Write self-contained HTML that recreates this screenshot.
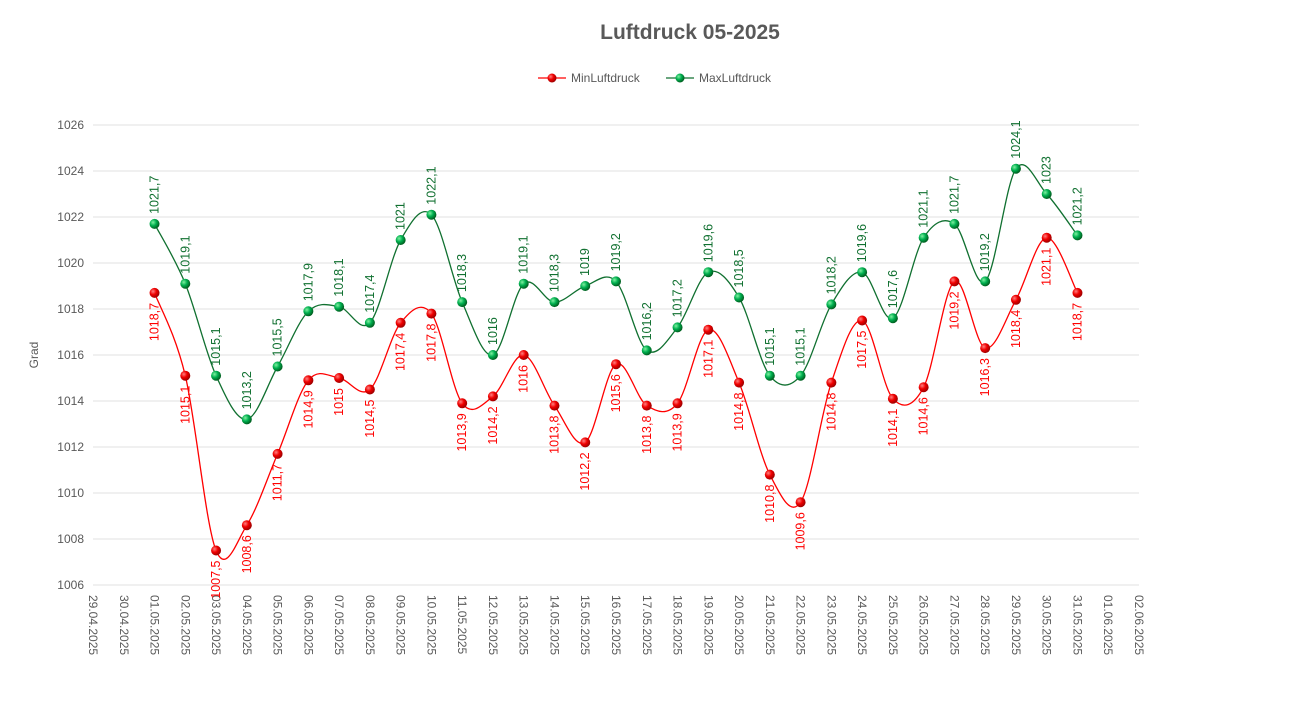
<!DOCTYPE html>
<html><head><meta charset="utf-8"><style>
html,body{margin:0;padding:0;background:#fff;}
svg{display:block;font-family:"Liberation Sans",sans-serif;}
</style></head><body>
<svg id="s" width="1315" height="714" xmlns="http://www.w3.org/2000/svg">
<defs>
<radialGradient id="gr" cx="35%" cy="35%" r="65%"><stop offset="0" stop-color="#ff8080"/><stop offset="0.5" stop-color="#f00000"/><stop offset="1" stop-color="#a00000"/></radialGradient>
<radialGradient id="gg" cx="35%" cy="35%" r="65%"><stop offset="0" stop-color="#80f0a0"/><stop offset="0.5" stop-color="#00b050"/><stop offset="1" stop-color="#006020"/></radialGradient>
</defs>
<text x="690" y="39" text-anchor="middle" font-size="21" font-weight="bold" fill="#595959">Luftdruck 05-2025</text>
<line x1="538" y1="78" x2="566" y2="78" stroke="#ff0000" stroke-width="1.3"/><circle cx="552" cy="78" r="4.5" fill="url(#gr)"/>
<text x="571" y="82" font-size="12" fill="#595959">MinLuftdruck</text>
<line x1="666" y1="78" x2="694" y2="78" stroke="#107030" stroke-width="1.3"/><circle cx="680" cy="78" r="4.5" fill="url(#gg)"/>
<text x="699" y="82" font-size="12" fill="#595959">MaxLuftdruck</text>
<text transform="translate(38,355) rotate(-90)" text-anchor="middle" font-size="12" fill="#595959">Grad</text>
<g id="g"></g>
</svg>
<script>
const g=document.getElementById('g');const NS='http://www.w3.org/2000/svg';
function el(t,a,txt){const e=document.createElementNS(NS,t);for(const k in a)e.setAttribute(k,a[k]);if(txt!==undefined)e.textContent=txt;g.appendChild(e);return e;}
const x0=93,x1=1139,dx=(x1-x0)/34;const Y=v=>585-(v-1006)*23;
for(let v=1006;v<=1026;v+=2){el('line',{x1:x0,x2:x1,y1:Y(v),y2:Y(v),stroke:'#e0e0e0','stroke-width':1});el('text',{x:84,y:Y(v)+4,'text-anchor':'end','font-size':12,fill:'#595959'},String(v));}
const dates=[];dates.push('29.04.2025','30.04.2025');for(let d=1;d<=31;d++)dates.push((d<10?'0':'')+d+'.05.2025');dates.push('01.06.2025','02.06.2025');
dates.forEach((d,i)=>{const x=x0+i*dx;el('text',{transform:`translate(${x-4},595) rotate(90)`,'font-size':12,fill:'#595959'},d);});
const mn=[1018.7,1015.1,1007.5,1008.6,1011.7,1014.9,1015,1014.5,1017.4,1017.8,1013.9,1014.2,1016,1013.8,1012.2,1015.6,1013.8,1013.9,1017.1,1014.8,1010.8,1009.6,1014.8,1017.5,1014.1,1014.6,1019.2,1016.3,1018.4,1021.1,1018.7];
const mx=[1021.7,1019.1,1015.1,1013.2,1015.5,1017.9,1018.1,1017.4,1021,1022.1,1018.3,1016,1019.1,1018.3,1019,1019.2,1016.2,1017.2,1019.6,1018.5,1015.1,1015.1,1018.2,1019.6,1017.6,1021.1,1021.7,1019.2,1024.1,1023,1021.2];
function path(arr){const p=arr.map((v,i)=>[x0+(i+2)*dx,Y(v)]);let d=`M${p[0][0]},${p[0][1]}`;
for(let i=0;i<p.length-1;i++){const a=p[Math.max(0,i-1)],b=p[i],c=p[i+1],e=p[Math.min(p.length-1,i+2)];
const c1=[b[0]+(c[0]-a[0])/6,b[1]+(c[1]-a[1])/6],c2=[c[0]-(e[0]-b[0])/6,c[1]-(e[1]-b[1])/6];d+=` C${c1[0]},${c1[1]} ${c2[0]},${c2[1]} ${c[0]},${c[1]}`;}return [d,p];}
function series(arr,col,grad,above){const [d,p]=path(arr);el('path',{d,fill:'none',stroke:col,'stroke-width':1.3});
p.forEach((q,i)=>{el('circle',{cx:q[0],cy:q[1],r:5,fill:`url(#${grad})`});const s=String(arr[i]).replace('.',',');
if(above)el('text',{transform:`translate(${q[0]+4},${q[1]-10}) rotate(-90)`,'font-size':12.5,fill:col},s);
else el('text',{transform:`translate(${q[0]+4},${q[1]+10}) rotate(-90)`,'text-anchor':'end','font-size':12.5,fill:col},s);});}
series(mn,'#ff0000','gr',false);series(mx,'#107030','gg',true);
</script>
</body></html>
